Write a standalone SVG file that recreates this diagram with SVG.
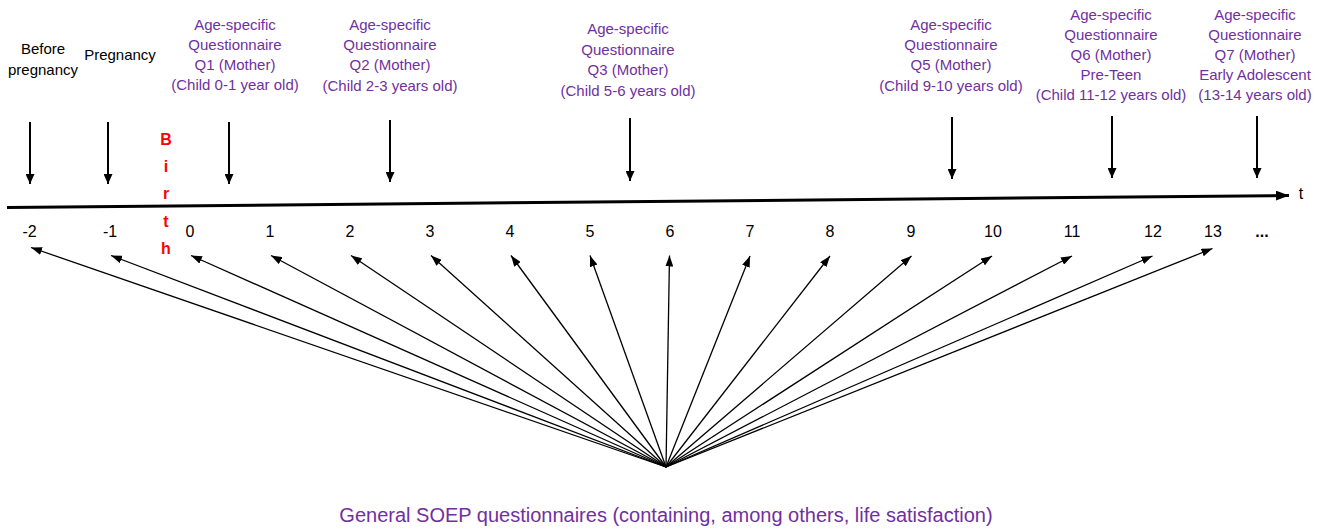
<svg xmlns="http://www.w3.org/2000/svg" width="1327" height="531" viewBox="0 0 1327 531">
<style>
text{font-family:"Liberation Sans",Arial,sans-serif}
.blk{font-size:15px;fill:#000;text-anchor:middle}
.pur{font-size:15px;fill:#7030A0;text-anchor:middle}
.num{font-size:16px;fill:#000;text-anchor:middle}
.birth{font-size:16px;font-weight:bold;fill:#FF0000;text-anchor:middle}
.down{stroke:#000;stroke-width:2;marker-end:url(#hd)}
.fan{stroke:#000;stroke-width:1.3;marker-end:url(#hf)}
</style>
<defs>
<marker id="hd" markerUnits="userSpaceOnUse" markerWidth="10" markerHeight="9" refX="10" refY="4.5" orient="auto"><path d="M0,0 L10,4.5 L0,9 z" fill="#000"/></marker>
<marker id="hf" markerUnits="userSpaceOnUse" markerWidth="11" markerHeight="8" refX="11" refY="4" orient="auto"><path d="M0,0 L11,4 L0,8 z" fill="#000"/></marker>
<marker id="ht" markerUnits="userSpaceOnUse" markerWidth="13" markerHeight="10" refX="13" refY="5" orient="auto"><path d="M0,0 L13,5 L0,10 z" fill="#000"/></marker>
</defs>
<rect width="1327" height="531" fill="#fff"/>
<g id="timeline">
<line x1="7" y1="207.5" x2="1289" y2="195.5" stroke="#000" stroke-width="3" marker-end="url(#ht)"/>
<text class="blk" x="1301" y="199" style="font-size:16px">t</text>
</g>
<g id="axis-labels">
<text class="num" x="29.5" y="237">-2</text>
<text class="num" x="110" y="237">-1</text>
<text class="num" x="190" y="237">0</text>
<text class="num" x="270" y="237">1</text>
<text class="num" x="350" y="237">2</text>
<text class="num" x="430" y="237">3</text>
<text class="num" x="510" y="237">4</text>
<text class="num" x="590" y="237">5</text>
<text class="num" x="670" y="237">6</text>
<text class="num" x="750" y="237">7</text>
<text class="num" x="830" y="237">8</text>
<text class="num" x="911" y="237">9</text>
<text class="num" x="993" y="237">10</text>
<text class="num" x="1072" y="237">11</text>
<text class="num" x="1153" y="237">12</text>
<text class="num" x="1213" y="237">13</text>
<text class="num" x="1262" y="237" style="font-weight:bold">...</text>
</g>
<g id="birth">
<text class="birth" x="166" y="145">B</text>
<text class="birth" x="166" y="172">i</text>
<text class="birth" x="166" y="199">r</text>
<text class="birth" x="166" y="227">t</text>
<text class="birth" x="166" y="254">h</text>
</g>
<g id="node-before">
<text class="blk" x="43" y="54">Before</text>
<text class="blk" x="43" y="75">pregnancy</text>
</g>
<g id="node-pregnancy">
<text class="blk" x="120" y="60">Pregnancy</text>
</g>
<g id="node-q1">
<text class="pur" x="235" y="29.5">Age-specific</text>
<text class="pur" x="235" y="49.5">Questionnaire</text>
<text class="pur" x="235" y="69.5">Q1 (Mother)</text>
<text class="pur" x="235" y="90">(Child 0-1 year old)</text>
</g>
<g id="node-q2">
<text class="pur" x="390" y="30">Age-specific</text>
<text class="pur" x="390" y="50">Questionnaire</text>
<text class="pur" x="390" y="70">Q2 (Mother)</text>
<text class="pur" x="390" y="90.5">(Child 2-3 years old)</text>
</g>
<g id="node-q3">
<text class="pur" x="628" y="34">Age-specific</text>
<text class="pur" x="628" y="54.5">Questionnaire</text>
<text class="pur" x="628" y="75">Q3 (Mother)</text>
<text class="pur" x="628" y="95.5">(Child 5-6 years old)</text>
</g>
<g id="node-q5">
<text class="pur" x="951" y="30">Age-specific</text>
<text class="pur" x="951" y="50">Questionnaire</text>
<text class="pur" x="951" y="70">Q5 (Mother)</text>
<text class="pur" x="951" y="90.5">(Child 9-10 years old)</text>
</g>
<g id="node-q6">
<text class="pur" x="1111" y="19.5">Age-specific</text>
<text class="pur" x="1111" y="39.5">Questionnaire</text>
<text class="pur" x="1111" y="59.5">Q6 (Mother)</text>
<text class="pur" x="1111" y="80">Pre-Teen</text>
<text class="pur" x="1111" y="100">(Child 11-12 years old)</text>
</g>
<g id="node-q7">
<text class="pur" x="1255" y="19.5">Age-specific</text>
<text class="pur" x="1255" y="39.5">Questionnaire</text>
<text class="pur" x="1255" y="59.5">Q7 (Mother)</text>
<text class="pur" x="1255" y="80">Early Adolescent</text>
<text class="pur" x="1255" y="100">(13-14 years old)</text>
</g>
<g id="node-soep">
<text x="666" y="522" style="font-size:20px;fill:#7030A0;text-anchor:middle">General SOEP questionnaires (containing, among others, life satisfaction)</text>
</g>
<g id="connectors">
<line class="down" x1="30" y1="122" x2="30" y2="184"/>
<line class="down" x1="108" y1="122" x2="108" y2="184"/>
<line class="down" x1="229" y1="122" x2="229" y2="184"/>
<line class="down" x1="390" y1="120" x2="390" y2="182"/>
<line class="down" x1="630" y1="118" x2="630" y2="181"/>
<line class="down" x1="952" y1="117" x2="952" y2="179"/>
<line class="down" x1="1112" y1="116" x2="1112" y2="178"/>
<line class="down" x1="1257" y1="116" x2="1257" y2="178"/>
<line class="fan" x1="666" y1="467" x2="31" y2="247.5"/>
<line class="fan" x1="666" y1="467" x2="111" y2="255.5"/>
<line class="fan" x1="666" y1="467" x2="191" y2="255.5"/>
<line class="fan" x1="666" y1="467" x2="271" y2="255.5"/>
<line class="fan" x1="666" y1="467" x2="351" y2="255.5"/>
<line class="fan" x1="666" y1="467" x2="431" y2="255.5"/>
<line class="fan" x1="666" y1="467" x2="511" y2="255.5"/>
<line class="fan" x1="666" y1="467" x2="590" y2="255.5"/>
<line class="fan" x1="666" y1="467" x2="669.5" y2="255.5"/>
<line class="fan" x1="666" y1="467" x2="750" y2="256"/>
<line class="fan" x1="666" y1="467" x2="830" y2="256"/>
<line class="fan" x1="666" y1="467" x2="911.5" y2="256"/>
<line class="fan" x1="666" y1="467" x2="992" y2="256"/>
<line class="fan" x1="666" y1="467" x2="1072" y2="256"/>
<line class="fan" x1="666" y1="467" x2="1152.5" y2="256"/>
<line class="fan" x1="666" y1="467" x2="1212.5" y2="248.5"/>
</g>
</svg>
